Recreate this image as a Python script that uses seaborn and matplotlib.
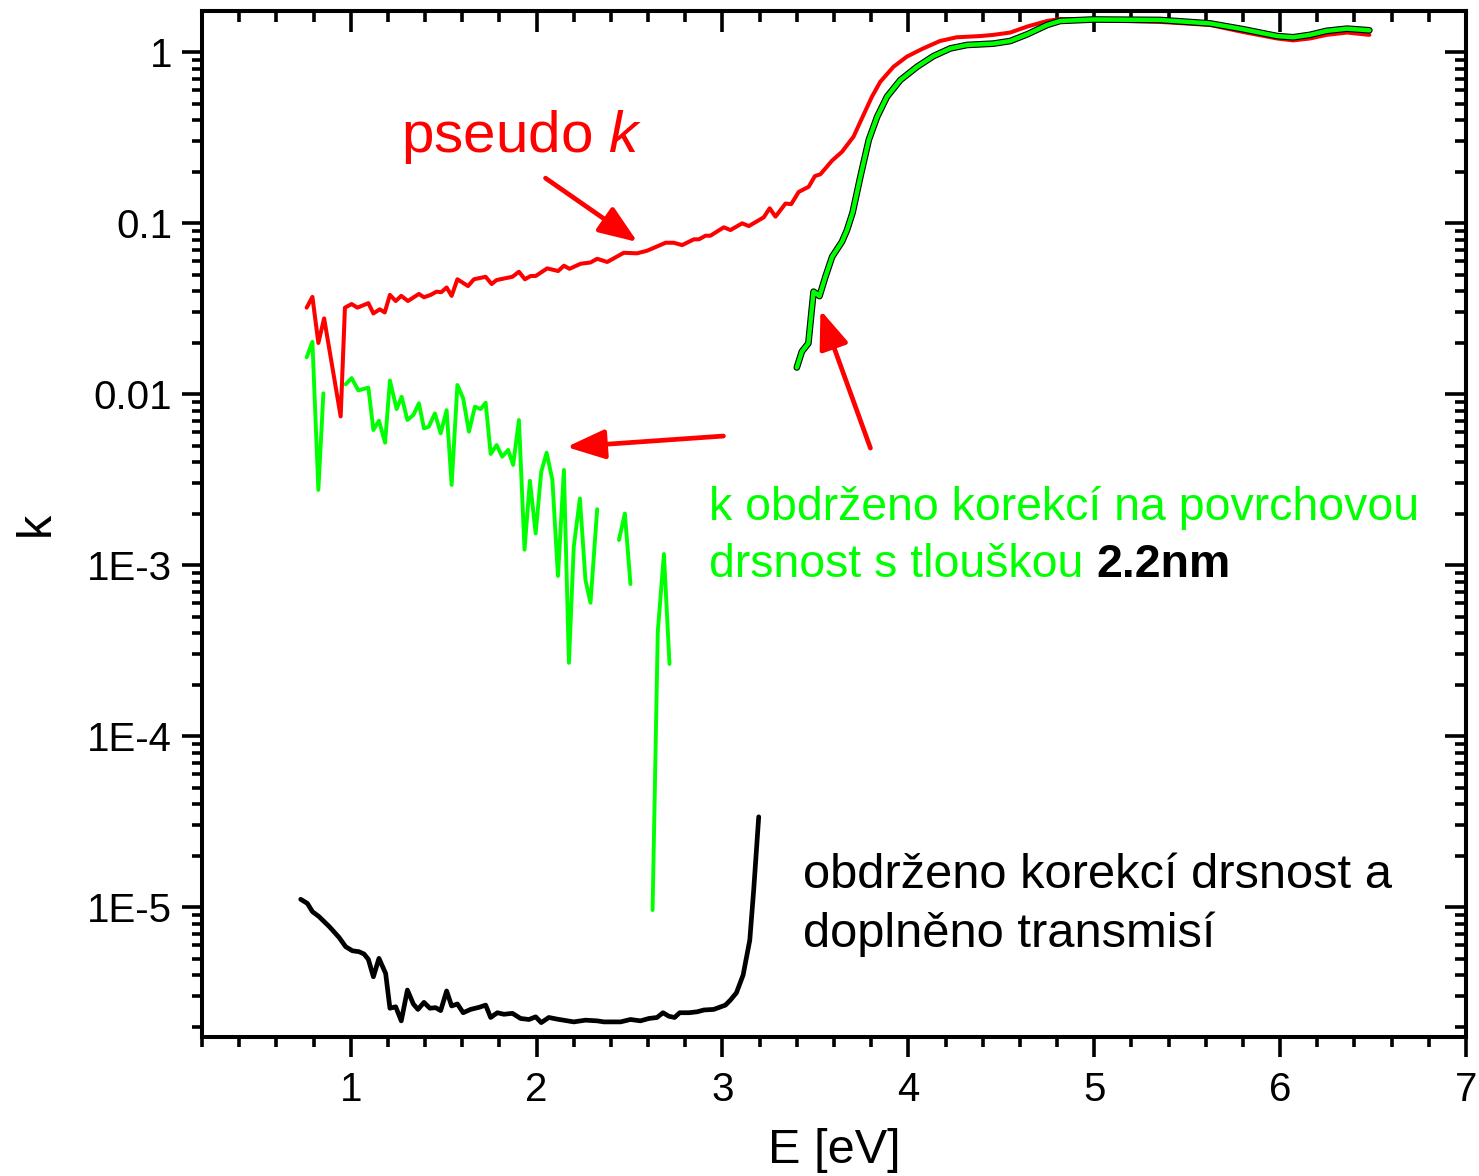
import matplotlib
matplotlib.use("Agg")
import matplotlib.pyplot as plt
import matplotlib.patheffects as pe
from matplotlib.ticker import FixedLocator, MultipleLocator, FixedFormatter, NullFormatter
import numpy as np
import pandas as pd
import seaborn as sns

# ---- data -------------------------------------------------------------
# pseudo k (red)
red_E = [0.763, 0.794, 0.826, 0.857, 0.946, 0.969, 1.005, 1.036, 1.095, 1.122,
         1.156, 1.183, 1.211, 1.242, 1.272, 1.308, 1.367, 1.394, 1.430, 1.462,
         1.487, 1.516, 1.543, 1.574, 1.631, 1.663, 1.726, 1.758, 1.785, 1.870,
         1.905, 1.937, 1.968, 1.995, 2.057, 2.116, 2.147, 2.177, 2.237, 2.290,
         2.326, 2.380, 2.469, 2.540, 2.595, 2.694, 2.738, 2.783, 2.846, 2.873,
         2.909, 2.935, 3.007, 3.043, 3.106, 3.142, 3.222, 3.254, 3.285, 3.339,
         3.370, 3.410, 3.464, 3.497, 3.527, 3.590, 3.643, 3.705, 3.750, 3.804,
         3.849, 3.920, 3.992, 4.080, 4.170, 4.260, 4.387, 4.457, 4.548, 4.640,
         4.747, 4.817, 4.995, 5.355, 5.624, 5.800, 5.984, 6.070, 6.160, 6.250,
         6.360, 6.480]
red_k = [0.032, 0.037, 0.0199, 0.0277, 0.0074, 0.032, 0.0336, 0.032, 0.034, 0.0296,
         0.0313, 0.030, 0.038, 0.035, 0.0375, 0.035, 0.0385, 0.0368, 0.038, 0.0397,
         0.0394, 0.042, 0.0375, 0.0469, 0.0428, 0.0469, 0.0485, 0.044, 0.0464, 0.0485,
         0.0519, 0.0469, 0.049, 0.049, 0.0543, 0.0524, 0.0563, 0.054, 0.0578, 0.0588,
         0.0618, 0.0592, 0.067, 0.0665, 0.0689, 0.0767, 0.0767, 0.0743, 0.0803, 0.0803,
         0.0843, 0.0843, 0.0944, 0.091, 0.0996, 0.096, 0.108, 0.122, 0.109, 0.130,
         0.129, 0.152, 0.163, 0.188, 0.193, 0.232, 0.261, 0.32, 0.409, 0.548,
         0.67, 0.82, 0.94, 1.05, 1.16, 1.22, 1.24, 1.26, 1.30, 1.41,
         1.52, 1.56, 1.54, 1.50, 1.44, 1.31, 1.20, 1.17, 1.20, 1.26,
         1.30, 1.26]

# k corrected for surface roughness (green), noisy low-energy part, in pieces
green_seg1_E = [0.763, 0.794, 0.826, 0.853]
green_seg1_k = [0.0164, 0.0202, 0.00275, 0.0101]
green_seg2_E = [0.973, 1.005, 1.041, 1.095, 1.122, 1.152, 1.185, 1.211, 1.247, 1.274,
                1.305, 1.337, 1.367, 1.394, 1.420, 1.453, 1.484, 1.516, 1.543, 1.574,
                1.605, 1.636, 1.668, 1.699, 1.726, 1.753, 1.785, 1.815, 1.847, 1.874,
                1.905, 1.935, 1.964, 1.995, 2.025, 2.054, 2.085, 2.115, 2.147, 2.174,
                2.200, 2.233, 2.263, 2.290, 2.326]
green_seg2_k = [0.0114, 0.0124, 0.0105, 0.0109, 0.00616, 0.00698, 0.00519, 0.012, 0.00817, 0.00964,
                0.00705, 0.00754, 0.00883, 0.0063, 0.00644, 0.00771, 0.00589, 0.00805, 0.00294, 0.0113,
                0.00944, 0.00602, 0.00843, 0.00817, 0.0089, 0.00446, 0.00503, 0.0043, 0.00471, 0.00385,
                0.00705, 0.00123, 0.00311, 0.00153, 0.00351, 0.00454, 0.00314, 0.000863, 0.0036, 0.000268,
                0.00128, 0.00245, 0.000817, 0.000602, 0.00212]
green_seg3_E = [2.443, 2.475, 2.505]
green_seg3_k = [0.0014, 0.002, 0.000774]
green_seg4_E = [2.624, 2.652, 2.685, 2.715]
green_seg4_k = [9.6e-6, 0.000407, 0.00116, 0.000264]

# green, absorption edge and above
green_hi_E = [3.400, 3.427, 3.462, 3.490, 3.522, 3.554, 3.590, 3.643, 3.670, 3.700,
              3.742, 3.787, 3.832, 3.885, 3.957, 4.047, 4.136, 4.226, 4.316, 4.387,
              4.457, 4.548, 4.640, 4.747, 4.817, 4.995, 5.355, 5.624, 5.800, 5.984,
              6.070, 6.160, 6.250, 6.360, 6.480]
green_hi_k = [0.0143, 0.0177, 0.0198, 0.0397, 0.0374, 0.0486, 0.0635, 0.0778, 0.091, 0.115,
              0.187, 0.306, 0.418, 0.548, 0.686, 0.82, 0.948, 1.05, 1.10, 1.11,
              1.12, 1.16, 1.27, 1.44, 1.52, 1.55, 1.54, 1.47, 1.36, 1.24,
              1.22, 1.26, 1.33, 1.37, 1.34]

# roughness corrected and completed with transmission (black)
black_E = [0.731, 0.767, 0.794, 0.829, 0.884, 0.937, 0.973, 1.009, 1.045, 1.072,
           1.095, 1.122, 1.152, 1.188, 1.211, 1.242, 1.272, 1.305, 1.337, 1.362,
           1.394, 1.426, 1.457, 1.484, 1.516, 1.543, 1.574, 1.605, 1.645, 1.690,
           1.726, 1.753, 1.789, 1.824, 1.870, 1.914, 1.959, 1.995, 2.025, 2.066,
           2.111, 2.200, 2.263, 2.326, 2.362, 2.452, 2.505, 2.559, 2.604, 2.648,
           2.680, 2.711, 2.742, 2.770, 2.820, 2.864, 2.900, 2.953, 3.016, 3.043,
           3.075, 3.111, 3.147, 3.168, 3.195]
black_k = [1.11e-5, 1.05e-5, 9.4e-6, 8.8e-6, 7.7e-6, 6.65e-6, 5.86e-6, 5.55e-6, 5.48e-6, 5.31e-6,
           4.94e-6, 3.91e-6, 5.01e-6, 4.09e-6, 2.56e-6, 2.61e-6, 2.16e-6, 3.27e-6, 2.71e-6, 2.52e-6,
           2.77e-6, 2.56e-6, 2.58e-6, 2.48e-6, 3.23e-6, 2.64e-6, 2.71e-6, 2.41e-6, 2.52e-6, 2.59e-6,
           2.67e-6, 2.26e-6, 2.41e-6, 2.36e-6, 2.39e-6, 2.23e-6, 2.2e-6, 2.28e-6, 2.11e-6, 2.26e-6,
           2.21e-6, 2.13e-6, 2.18e-6, 2.16e-6, 2.13e-6, 2.13e-6, 2.2e-6, 2.16e-6, 2.23e-6, 2.26e-6,
           2.41e-6, 2.3e-6, 2.26e-6, 2.41e-6, 2.41e-6, 2.44e-6, 2.5e-6, 2.52e-6, 2.67e-6, 2.86e-6,
           3.15e-6, 4.0e-6, 6.41e-6, 1.26e-5, 3.37e-5]

x_ticks = [1, 2, 3, 4, 5, 6, 7]
y_ticks = [1e-5, 1e-4, 1e-3, 1e-2, 1e-1, 1]
y_tick_labels = ["1E-5", "1E-4", "1E-3", "0.01", "0.1", "1"]

# ---- style ------------------------------------------------------------
sns.set_theme(style="white")
plt.rcParams["font.family"] = ["Liberation Sans", "DejaVu Sans"]
plt.rcParams["mathtext.fontset"] = "custom"
plt.rcParams["mathtext.rm"] = "Liberation Sans"
plt.rcParams["mathtext.it"] = "Liberation Sans:italic"
plt.rcParams["mathtext.bf"] = "Liberation Sans:bold"

RED = "#ff0000"
GREEN = "#00ff00"

W, H = 1479, 1176
fig = plt.figure(figsize=(W / 100, H / 100), dpi=100)
ax = fig.add_axes([202 / W, (H - 1037) / H, 1264 / W, 1026 / H])
ax.set_yscale("log")
ax.set_xlim(0.2, 7.0)
ax.set_ylim(10 ** -5.76, 10 ** 0.24)

# ---- curves -----------------------------------------------------------
sns.lineplot(x=red_E, y=red_k, ax=ax, color=RED, lw=2.9, sort=False, estimator=None)

green_df = pd.concat([
    pd.DataFrame({"E": e, "k": k, "part": i})
    for i, (e, k) in enumerate([(green_seg1_E, green_seg1_k), (green_seg2_E, green_seg2_k),
                                (green_seg3_E, green_seg3_k), (green_seg4_E, green_seg4_k)])
])
sns.lineplot(data=green_df, x="E", y="k", units="part", estimator=None, sort=False,
             ax=ax, color=GREEN, lw=2.8)
sns.lineplot(x=green_hi_E, y=green_hi_k, ax=ax, color=GREEN, lw=3.2, sort=False, estimator=None,
             path_effects=[pe.Stroke(linewidth=4.8, foreground="black"), pe.Normal()])
sns.lineplot(x=black_E, y=black_k, ax=ax, color="black", lw=3.4, sort=False, estimator=None)

# ---- axes, ticks ------------------------------------------------------
for s in ax.spines.values():
    s.set_color("black")
    s.set_linewidth(2.9)

ax.xaxis.set_major_locator(FixedLocator(x_ticks))
ax.xaxis.set_minor_locator(MultipleLocator(0.2))
ax.yaxis.set_major_locator(FixedLocator(y_ticks))
ax.yaxis.set_major_formatter(FixedFormatter(y_tick_labels))
minor_y = [m * 10.0 ** d for d in range(-6, 1) for m in range(2, 10)]
ax.yaxis.set_minor_locator(FixedLocator(minor_y))
ax.yaxis.set_minor_formatter(NullFormatter())

ax.tick_params(which="both", direction="out", color="black", width=2.6,
               labelsize=29, labelcolor="black", bottom=True, left=True)
ax.tick_params(which="major", length=14.5)
ax.tick_params(which="minor", length=7.5)
ax.tick_params(axis="x", which="major", pad=10)
ax.tick_params(axis="y", which="major", pad=7)

top = ax.secondary_xaxis("top")
top.xaxis.set_major_locator(FixedLocator(x_ticks))
top.xaxis.set_minor_locator(MultipleLocator(0.2))
top.xaxis.set_major_formatter(NullFormatter())
top.tick_params(which="both", direction="in", color="black", width=2.6)
top.tick_params(which="major", length=15)
top.tick_params(which="minor", length=8)
top.spines["top"].set_linewidth(2.9)
top.spines["top"].set_color("black")

right = ax.secondary_yaxis("right")
right.yaxis.set_major_locator(FixedLocator(y_ticks))
right.yaxis.set_minor_locator(FixedLocator(minor_y))
right.yaxis.set_major_formatter(NullFormatter())
right.yaxis.set_minor_formatter(NullFormatter())
right.tick_params(which="both", direction="in", color="black", width=2.6)
right.tick_params(which="major", length=15)
right.tick_params(which="minor", length=8)
right.spines["right"].set_linewidth(2.9)
right.spines["right"].set_color("black")

ax.set_xlabel("E [eV]", fontsize=35, color="black", labelpad=14)
ax.set_ylabel("k", fontsize=35, color="black", labelpad=20)

# ---- annotations ------------------------------------------------------
ax.text(1.269, 0.26, "pseudo $\\mathit{k}$", fontsize=42, color=RED, va="baseline", ha="left")

ax.text(2.930, 0.00183, "k obdrženo korekcí na povrchovou", fontsize=33.4, color=GREEN,
        va="baseline", ha="left")
t2 = ax.text(2.930, 0.000851, "drsnost s tlouškou ", fontsize=33.4, color=GREEN,
             va="baseline", ha="left")
ax.annotate("2.2nm", xy=(1, 0), xycoords=t2, va="bottom", ha="left",
            fontsize=33.4, fontweight="bold", color="black")

ax.text(3.435, 1.29e-5, "obdrženo korekcí drsnost a", fontsize=35.2, color="black",
        va="baseline", ha="left")
ax.text(3.435, 5.83e-6, "doplněno transmisí", fontsize=35.2, color="black",
        va="baseline", ha="left")

arrow = dict(arrowstyle="-|>,head_length=1.3,head_width=0.5", color=RED, lw=3.4,
             mutation_scale=18, shrinkA=0, shrinkB=0)
ax.annotate("", xy=(2.543, 0.0774), xytext=(2.048, 0.183), arrowprops=arrow)
ax.annotate("", xy=(2.161, 0.0049), xytext=(3.005, 0.00568), arrowprops=arrow)
ax.annotate("", xy=(3.527, 0.031), xytext=(3.796, 0.00483), arrowprops=arrow)

fig.savefig("out.png", dpi=100, facecolor="white")
